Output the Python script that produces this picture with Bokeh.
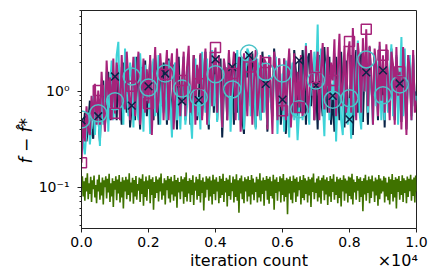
from bokeh.plotting import figure
from bokeh.models import Range1d, FixedTicker, CustomJSTickFormatter, LinearAxis
from bokeh.embed import file_html
from bokeh.resources import INLINE

# ---- data ----
iters = [i * 50 for i in range(201)]
iters_green = [i * 25 for i in range(401)]

cyan_vals = [
    0.51, 0.3, 0.22, 0.4, 0.6, 0.28, 0.45, 0.9, 0.35, 0.7,
    0.59, 0.27, 1.2, 0.45, 0.8, 1.6, 0.38, 1.1, 2.1, 0.5,
    0.79, 2.4, 3.3, 0.6, 1.8, 0.45, 2.8, 1.0, 0.55, 2.0,
    1.43, 0.42, 2.3, 0.7, 0.5, 2.5, 1.2, 0.38, 1.9, 0.8,
    1.10, 0.36, 1.6, 2.2, 0.55, 0.9, 2.4, 0.45, 1.3, 0.6,
    1.54, 0.5, 2.1, 0.8, 0.33, 1.7, 2.0, 0.5, 1.1, 0.4,
    1.07, 2.3, 0.45, 0.7, 2.0, 0.6, 0.32, 1.5, 2.2, 0.55,
    0.87, 0.4, 2.6, 1.0, 0.6, 2.2, 0.45, 1.4, 2.7, 0.7,
    1.51, 0.48, 1.9, 0.9, 0.42, 2.1, 1.3, 0.55, 2.0, 0.38,
    1.05, 1.8, 0.6, 2.7, 0.5, 0.85, 2.3, 0.4, 1.6, 2.8,
    2.49, 0.55, 1.4, 1.8, 0.4, 2.2, 0.9, 0.5, 2.0, 0.6,
    1.6, 0.45, 2.4, 0.8, 0.5, 1.9, 2.3, 0.36, 1.2, 0.7,
    1.54, 0.38, 2.1, 0.6, 0.33, 1.5, 2.0, 0.5, 0.9, 0.31,
    0.65, 2.3, 0.5, 1.4, 3.2, 0.7, 0.45, 2.1, 0.9, 2.6,
    1.30, 5.0, 0.6, 2.8, 0.8, 0.34, 1.9, 2.4, 0.5, 1.2,
    0.82, 2.5, 0.3, 1.1, 1.9, 0.5, 0.35, 2.2, 0.8, 0.45,
    0.85, 0.32, 2.6, 0.55, 1.6, 3.4, 0.6, 0.4, 2.3, 1.0,
    2.16, 0.6, 2.9, 1.2, 0.45, 2.2, 0.7, 1.8, 3.0, 0.5,
    0.91, 0.5, 2.6, 0.6, 1.4, 3.1, 0.55, 0.9, 2.4, 0.45,
    1.18, 3.7, 0.55, 2.8, 0.6, 1.5, 2.4, 0.5, 2.2, 0.7,
    0.9,
]

navy_vals = [
    0.50, 0.35, 0.6, 0.3, 0.45, 0.8, 0.4, 0.32, 0.7, 0.5,
    0.55, 0.3, 0.9, 1.3, 0.45, 0.7, 1.6, 0.5, 1.2, 0.6,
    1.43, 0.5, 1.9, 0.8, 0.45, 2.0, 1.1, 0.6, 1.7, 0.42,
    0.71, 1.7, 0.5, 2.3, 0.9, 0.4, 1.8, 0.6, 2.1, 0.55,
    1.13, 2.1, 0.6, 0.5, 2.4, 1.2, 0.45, 1.6, 0.7, 2.0,
    1.54, 0.45, 2.2, 0.9, 0.5, 1.9, 1.4, 0.4, 2.3, 0.7,
    0.79, 2.3, 0.5, 1.2, 2.0, 0.45, 0.6, 2.4, 1.0, 0.5,
    0.81, 2.4, 0.55, 1.5, 2.6, 0.7, 0.4, 1.9, 2.2, 0.6,
    2.16, 0.5, 1.4, 2.2, 0.33, 1.0, 1.8, 0.5, 2.5, 0.9,
    1.8, 0.45, 2.5, 0.6, 1.2, 2.3, 0.5, 0.36, 2.0, 1.4,
    2.38, 0.7, 2.5, 1.1, 0.42, 2.0, 0.8, 0.5, 2.6, 1.3,
    1.2, 0.38, 2.4, 0.9, 0.55, 2.8, 1.5, 0.6, 2.2, 0.45,
    0.82, 2.2, 0.36, 1.3, 2.5, 0.5, 0.7, 2.7, 1.6, 0.55,
    2.11, 0.6, 2.7, 1.4, 0.45, 2.2, 2.5, 0.7, 1.9, 0.5,
    1.16, 0.4, 2.4, 0.9, 0.55, 2.9, 1.2, 0.6, 2.3, 0.45,
    0.9, 0.38, 2.3, 1.3, 0.5, 2.6, 1.0, 0.42, 2.1, 0.7,
    0.51, 2.4, 0.35, 1.5, 2.7, 0.6, 0.9, 2.5, 0.48, 1.8,
    1.58, 0.45, 2.9, 1.1, 0.65, 2.5, 1.6, 0.5, 2.7, 0.8,
    1.66, 0.42, 2.4, 1.2, 0.7, 2.8, 0.9, 0.5, 2.3, 1.4,
    1.21, 0.48, 2.6, 1.0, 0.4, 2.2, 1.5, 0.55, 2.4, 0.7,
    1.0,
]

magenta_vals = [
    0.18, 0.5, 0.3, 0.7, 0.4, 0.35, 0.9, 0.5, 1.2, 0.45,
    1.02, 0.45, 1.6, 0.7, 0.38, 2.1, 0.9, 1.4, 0.5, 2.2,
    0.59, 2.0, 1.1, 0.5, 2.4, 0.8, 0.65, 2.6, 1.3, 0.5,
    1.13, 2.3, 0.55, 1.5, 2.6, 0.45, 1.0, 2.2, 0.6, 1.7,
    0.75, 2.4, 0.35, 1.2, 2.9, 0.6, 0.8, 2.5, 1.4, 0.5,
    1.5, 2.7, 0.5, 1.6, 2.5, 0.4, 0.9, 2.8, 1.1, 0.55,
    1.3, 2.6, 0.55, 1.8, 3.0, 0.6, 1.0, 2.4, 0.45, 1.9,
    1.2, 2.5, 0.5, 1.3, 2.8, 0.45, 1.1, 2.6, 0.7, 2.0,
    2.87, 0.6, 2.4, 1.2, 0.42, 2.2, 1.6, 0.5, 2.7, 0.9,
    1.54, 2.6, 0.5, 1.4, 2.3, 0.38, 0.8, 2.5, 1.2, 0.55,
    1.8, 2.5, 0.45, 1.3, 2.7, 0.55, 1.0, 2.4, 0.6, 2.2,
    2.01, 0.4, 2.3, 1.1, 0.36, 2.6, 1.5, 0.5, 2.2, 0.8,
    0.63, 2.2, 0.5, 1.4, 2.8, 0.42, 1.0, 2.5, 0.6, 1.6,
    0.68, 2.4, 0.55, 1.2, 3.0, 0.6, 0.9, 2.7, 1.5, 0.5,
    1.4, 2.6, 0.5, 1.7, 3.2, 0.65, 1.1, 2.9, 0.6, 2.0,
    1.3, 3.5, 0.55, 1.6, 4.0, 0.7, 1.2, 3.0, 0.6, 2.4,
    3.33, 0.6, 4.6, 1.4, 0.5, 3.2, 2.0, 0.6, 3.6, 1.0,
    4.45, 0.7, 3.0, 1.5, 0.45, 2.8, 1.8, 0.55, 3.3, 0.8,
    2.38, 0.6, 3.1, 1.3, 0.5, 2.6, 1.9, 0.45, 2.9, 0.9,
    1.6, 0.4, 2.9, 1.2, 0.35, 2.4, 1.7, 0.5, 2.7, 0.6,
    0.8,
]

green_vals = [
    0.10, 0.13, 0.08, 0.115, 0.072, 0.125, 0.09, 0.14, 0.075, 0.11,
    0.085, 0.128, 0.07, 0.118, 0.095, 0.132, 0.078, 0.105, 0.068, 0.12,
    0.09, 0.135, 0.074, 0.112, 0.082, 0.126, 0.066, 0.118, 0.1, 0.13,
    0.076, 0.122, 0.088, 0.138, 0.07, 0.11, 0.08, 0.124, 0.062, 0.116,
    0.094, 0.13, 0.073, 0.12, 0.086, 0.134, 0.069, 0.114, 0.078, 0.127,
    0.06, 0.118, 0.09, 0.128, 0.075, 0.12, 0.083, 0.14, 0.071, 0.112,
    0.088, 0.125, 0.067, 0.119, 0.08, 0.131, 0.074, 0.108, 0.092, 0.126,
    0.07, 0.122, 0.085, 0.136, 0.064, 0.115, 0.079, 0.129, 0.072, 0.117,
    0.096, 0.133, 0.068, 0.121, 0.083, 0.127, 0.058, 0.113, 0.077, 0.13,
    0.087, 0.12, 0.071, 0.126, 0.09, 0.139, 0.074, 0.11, 0.082, 0.124,
    0.066, 0.118, 0.093, 0.131, 0.076, 0.122, 0.069, 0.128, 0.084, 0.115,
    0.072, 0.134, 0.08, 0.119, 0.061, 0.125, 0.088, 0.113, 0.075, 0.13,
    0.09, 0.121, 0.067, 0.127, 0.079, 0.142, 0.071, 0.116, 0.086, 0.124,
    0.07, 0.119, 0.083, 0.133, 0.065, 0.112, 0.092, 0.128, 0.074, 0.121,
    0.081, 0.137, 0.069, 0.118, 0.087, 0.126, 0.057, 0.114, 0.078, 0.13,
    0.094, 0.123, 0.072, 0.129, 0.08, 0.117, 0.066, 0.135, 0.085, 0.12,
    0.073, 0.127, 0.09, 0.114, 0.068, 0.131, 0.077, 0.122, 0.083, 0.138,
    0.07, 0.116, 0.088, 0.125, 0.063, 0.12, 0.081, 0.133, 0.074, 0.111,
    0.091, 0.129, 0.069, 0.121, 0.079, 0.136, 0.072, 0.118, 0.054, 0.124,
    0.086, 0.132, 0.075, 0.115, 0.068, 0.127, 0.09, 0.121, 0.071, 0.13,
    0.08, 0.119, 0.066, 0.134, 0.084, 0.123, 0.073, 0.112, 0.089, 0.128,
    0.069, 0.121, 0.078, 0.14, 0.071, 0.117, 0.085, 0.126, 0.064, 0.119,
    0.092, 0.131, 0.074, 0.122, 0.067, 0.128, 0.081, 0.115, 0.076, 0.135,
    0.058, 0.12, 0.087, 0.127, 0.072, 0.113, 0.09, 0.13, 0.069, 0.124,
    0.083, 0.137, 0.071, 0.118, 0.079, 0.125, 0.052, 0.121, 0.086, 0.129,
    0.074, 0.116, 0.068, 0.132, 0.088, 0.122, 0.07, 0.127, 0.08, 0.114,
    0.093, 0.13, 0.066, 0.119, 0.077, 0.134, 0.073, 0.124, 0.085, 0.117,
    0.069, 0.128, 0.082, 0.121, 0.062, 0.126, 0.089, 0.139, 0.075, 0.112,
    0.087, 0.123, 0.071, 0.13, 0.078, 0.118, 0.067, 0.125, 0.092, 0.133,
    0.073, 0.12, 0.084, 0.127, 0.065, 0.116, 0.08, 0.131, 0.07, 0.122,
    0.089, 0.136, 0.074, 0.114, 0.083, 0.128, 0.068, 0.121, 0.077, 0.125,
    0.063, 0.119, 0.09, 0.133, 0.072, 0.123, 0.086, 0.117, 0.069, 0.129,
    0.081, 0.126, 0.075, 0.138, 0.066, 0.12, 0.088, 0.113, 0.074, 0.131,
    0.092, 0.122, 0.07, 0.127, 0.079, 0.116, 0.056, 0.124, 0.084, 0.135,
    0.072, 0.118, 0.087, 0.129, 0.068, 0.121, 0.077, 0.132, 0.09, 0.115,
    0.07, 0.126, 0.082, 0.12, 0.064, 0.134, 0.075, 0.123, 0.086, 0.117,
    0.09, 0.13, 0.069, 0.125, 0.08, 0.112, 0.073, 0.128, 0.066, 0.121,
    0.085, 0.137, 0.071, 0.119, 0.078, 0.127, 0.06, 0.122, 0.089, 0.131,
    0.074, 0.116, 0.083, 0.133, 0.07, 0.124, 0.087, 0.118, 0.068, 0.129,
    0.079, 0.122, 0.091, 0.135, 0.072, 0.12, 0.081, 0.126, 0.069, 0.132,
    0.09,
]

mark_every = 10  # markers every 500 iterations
x_ticks = [0, 2000, 4000, 6000, 8000, 10000]
x_scale_text = "\u00d710\u2074"
x_label = "iteration count"
y_label = "f \u2212 f\u0302*"
y_ticks = [0.1, 1.0]
y_minor = [0.04, 0.05, 0.06, 0.07, 0.08, 0.09,
           0.2, 0.3, 0.4, 0.5, 0.6, 0.7, 0.8, 0.9,
           2, 3, 4, 5, 6, 7]

NAVY = "#0b2447"
CYAN = "#3ed3d8"
CIRC = "#4cc3c8"
MAGENTA = "#a6237a"
GREEN = "#3f7200"
FONT = "DejaVu Sans"

p = figure(width=428, height=276, output_backend="svg", toolbar_location=None,
           y_axis_type="log",
           x_range=Range1d(0, 10000), y_range=Range1d(0.037, 7.0),
           min_border_left=81, min_border_right=12, min_border_top=10, min_border_bottom=48)
p.background_fill_color = "white"
p.border_fill_color = "white"
p.outline_line_color = "#222222"
p.outline_line_width = 1
p.xgrid.visible = False
p.ygrid.visible = False

# lines
p.line(iters, navy_vals, line_color=NAVY, line_width=2)
p.line(iters, cyan_vals, line_color=CYAN, line_width=2)
p.line(iters, magenta_vals, line_color=MAGENTA, line_width=2)
p.line(iters_green, green_vals, line_color=GREEN, line_width=1.6)

# markers
mx = iters[:200:mark_every]
p.scatter(mx, navy_vals[:200:mark_every], marker="x", size=11, line_color=NAVY, line_width=1.5)
p.scatter(mx, cyan_vals[:200:mark_every], marker="circle", size=17, fill_color=None,
          line_color=CIRC, line_width=1.5)
p.scatter(mx, magenta_vals[:200:mark_every], marker="square", size=10, fill_color=None,
          line_color=MAGENTA, line_width=1.5)

# axes
xa = p.xaxis[0]
xa.ticker = FixedTicker(ticks=x_ticks)
xa.formatter = CustomJSTickFormatter(code="return (tick/10000).toFixed(1);")
ya = p.yaxis[0]
ya.ticker = FixedTicker(ticks=y_ticks, minor_ticks=y_minor)
ya.formatter = CustomJSTickFormatter(code="""
if (Math.abs(tick-1) < 1e-9) return '10\u2070';
if (Math.abs(tick-0.1) < 1e-9) return '10\u207b\u00b9';
return '';""")
# trailing en-spaces keep the rotated label centred on the frame
ya.axis_label = y_label + "\u2002" * 5
ya.axis_label_text_font_style = "italic"

for ax in (xa, ya):
    ax.axis_line_color = "#222222"
    ax.major_tick_line_color = "#222222"
    ax.minor_tick_line_color = "#222222"
    ax.major_tick_out = 4
    ax.major_tick_in = 0
    ax.minor_tick_out = 2
    ax.minor_tick_in = 0
    ax.major_label_text_font = FONT
    ax.major_label_text_font_size = "14px"
    ax.major_label_text_color = "black"
    ax.axis_label_text_font = FONT
    ax.axis_label_text_font_size = "17px"
    ax.axis_label_text_color = "black"
xa.minor_tick_out = 0
xa.major_label_standoff = 4
ya.major_label_standoff = 8
ya.axis_label_standoff = 0

# second row below the x axis: axis title and the x10^4 scale text
lab_ax = LinearAxis(ticker=FixedTicker(ticks=[5000, 9440]),
                    formatter=CustomJSTickFormatter(
                        args=dict(a=x_label, b=x_scale_text),
                        code="return tick < 8000 ? a : b;"))
lab_ax.axis_line_color = None
lab_ax.major_tick_line_color = None
lab_ax.minor_tick_line_color = None
lab_ax.major_tick_out = 0
lab_ax.major_label_standoff = 1
lab_ax.major_label_text_font = FONT
lab_ax.major_label_text_font_size = "16px"
lab_ax.major_label_text_color = "black"
p.add_layout(lab_ax, "below")

open("out.html", "w").write(file_html(p, INLINE))
